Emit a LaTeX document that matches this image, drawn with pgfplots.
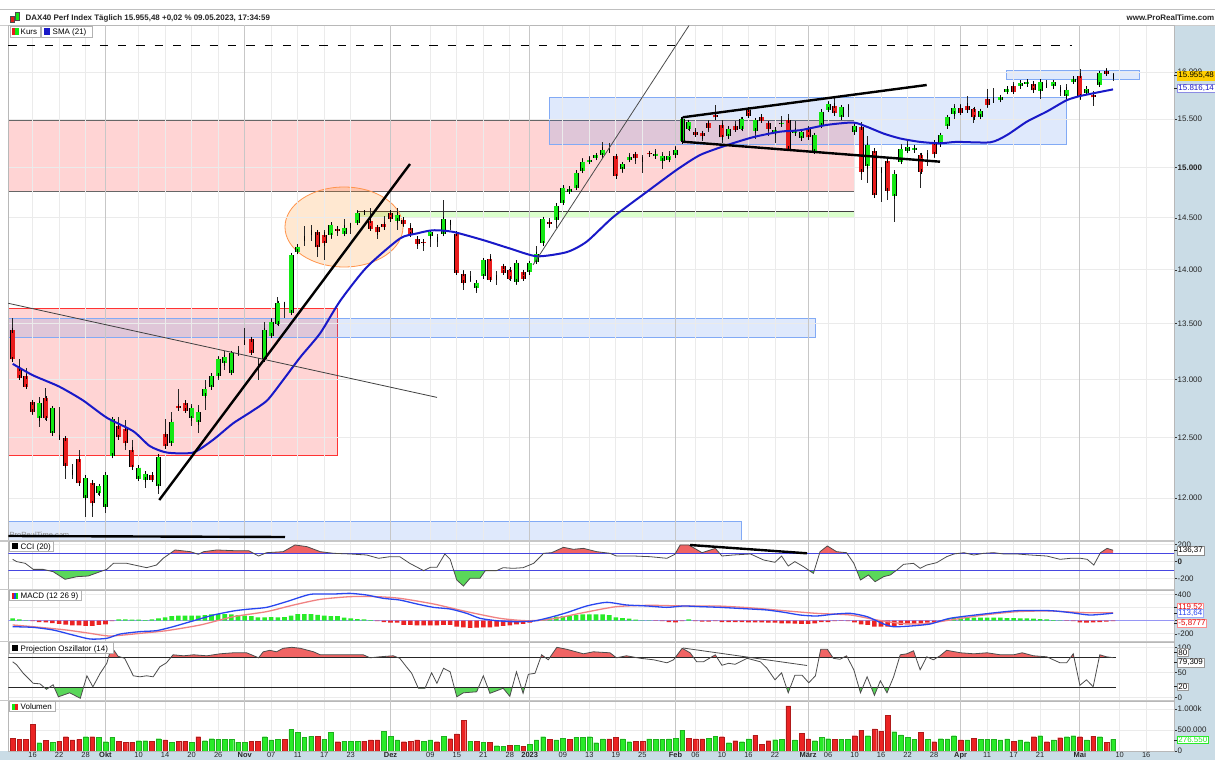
\documentclass[border=0pt]{standalone}
\usepackage{fontspec}
\setmainfont{Liberation Sans}
\usepackage{pgfplots}
\pgfplotsset{compat=1.18}
\usepackage{pgfplotstable}

\definecolor{cgreen}{RGB}{20,232,20}
\definecolor{cred}{RGB}{232,28,28}
\definecolor{smablue}{RGB}{25,25,200}
\definecolor{strip}{RGB}{202,220,230}
\definecolor{boxblue}{RGB}{70,130,240}
\definecolor{boxblueb}{RGB}{130,170,245}
\definecolor{fillred}{RGB}{240,100,100}
\definecolor{fillgreen}{RGB}{90,215,90}
\definecolor{macdblue}{RGB}{40,70,240}
\definecolor{macdred}{RGB}{240,130,130}
\definecolor{zeroline}{RGB}{150,150,245}
\definecolor{vgreen}{RGB}{40,235,40}
\definecolor{vred}{RGB}{235,35,35}
\definecolor{tagyellow}{RGB}{255,206,0}
\definecolor{cciline}{RGB}{70,70,225}
\newcommand{\tf}{\fontsize{8}{9}\selectfont}

\pgfplotstableread{
i o h l c
0 13443 13550 13175 13180
1 13100 13180 12997 13017
2 13030 13100 12925 12940
3 12802 12820 12690 12722
4 12665 12850 12587 12793
5 12836 12925 12650 12665
6 12538 12760 12530 12750
7 12505 12760 12495 12505
8 12495 12510 12160 12265
9 12210 12280 12160 12210
10 12320 12400 12115 12120
11 12005 12180 11850 12165
12 12127 12127 11850 11958
13 12040 12098 12030 12098
14 11932 12210 11880 12190
15 12347 12665 12340 12657
16 12597 12680 12500 12503
17 12577 12650 12400 12455
18 12397 12480 12250 12255
19 12160 12265 12150 12250
20 12150 12205 12080 12200
21 12190 12200 12140 12152
22 12098 12360 12035 12341
23 12530 12660 12425 12430
24 12455 12720 12450 12637
25 12770 12915 12736 12752
26 12800 12810 12720 12730
27 12665 12790 12600 12752
28 12632 12780 12540 12716
29 12860 13000 12735 12915
30 12935 13045 12930 13033
31 13035 13210 13000 13180
32 13145 13250 13085 13200
33 13060 13250 13040 13235
34 13240 13300 13210 13240
35 13330 13460 13310 13330
36 13360 13370 13230 13240
37 13120 13190 13000 13120
38 13180 13520 13170 13443
39 13390 13550 13380 13520
40 13500 13750 13490 13690
41 13680 13700 13550 13680
42 13600 14150 13590 14140
43 14173 14240 14160 14222
44 14300 14420 14230 14300
45 14360 14430 14280 14360
46 14360 14380 14125 14217
47 14335 14380 14090 14255
48 14330 14460 14300 14435
49 14395 14420 14320 14375
50 14345 14490 14330 14405
51 14430 14445 14340 14430
52 14455 14580 14440 14545
53 14550 14570 14530 14550
54 14475 14600 14390 14395
55 14410 14420 14300 14360
56 14440 14520 14400 14410
57 14550 14570 14480 14490
58 14475 14600 14380 14530
59 14485 14500 14410 14445
60 14405 14450 14330 14340
61 14300 14310 14200 14250
62 14270 14290 14180 14255
63 14320 14380 14220 14360
64 14290 14340 14220 14290
65 14345 14680 14340 14490
66 14460 14480 14380 14460
67 14345 14350 13970 13975
68 13965 14000 13810 13880
69 13920 13990 13890 13920
70 13830 13910 13780 13880
71 13940 14100 13930 14090
72 14105 14150 13900 13910
73 13925 13990 13860 13925
74 14035 14060 13960 13975
75 14000 14010 13905 13915
76 13890 14085 13855 14070
77 13980 14000 13900 13915
78 13980 14080 13950 14065
79 14080 14230 14070 14150
80 14255 14500 14250 14490
81 14460 14500 14400 14440
82 14480 14630 14400 14620
83 14650 14810 14640 14800
84 14760 14800 14750 14790
85 14800 14960 14790 14950
86 14970 15100 14960 15060
87 15060 15120 15050 15080
88 15100 15140 15090 15125
89 15130 15260 15120 15185
90 15180 15250 15170 15180
91 15120 15130 14910 14915
92 14985 15050 14950 15035
93 15080 15150 15070 15105
94 15140 15160 15040 15095
95 15085 15130 14950 15085
96 15150 15170 15110 15140
97 15120 15190 15110 15145
98 15070 15160 14990 15120
99 15080 15170 15060 15120
100 15130 15220 15120 15185
101 15270 15510 15260 15500
102 15400 15480 15390 15470
103 15365 15410 15310 15340
104 15355 15370 15270 15320
105 15460 15490 15370 15410
106 15550 15650 15510 15520
107 15435 15490 15250 15310
108 15320 15420 15300 15400
109 15425 15480 15380 15390
110 15400 15520 15390 15500
111 15600 15630 15520 15535
112 15380 15500 15290 15490
113 15525 15545 15470 15485
114 15460 15480 15330 15400
115 15360 15420 15250 15390
116 15450 15530 15440 15465
117 15490 15560 15170 15195
118 15355 15480 15340 15380
119 15300 15400 15280 15370
120 15395 15430 15300 15310
121 15170 15345 15160 15335
122 15430 15590 15420 15580
123 15600 15690 15590 15660
124 15640 15720 15560 15565
125 15520 15635 15510 15625
126 15625 15665 15520 15625
127 15365 15460 15340 15425
128 15415 15470 14880 14960
129 15015 15330 14850 15230
130 15175 15185 14700 14725
131 14970 15010 14660 14970
132 15070 15110 14680 14770
133 14715 14977 14460 14935
134 15060 15247 15050 15190
135 15175 15290 15160 15215
136 15180 15220 15160 15205
137 15130 15150 14800 14960
138 15130 15180 15015 15130
139 15255 15265 15100 15140
140 15240 15345 15210 15335
141 15425 15530 15410 15520
142 15560 15660 15500 15615
143 15620 15660 15560 15570
144 15640 15740 15590 15595
145 15605 15615 15460 15520
146 15525 15600 15500 15585
147 15710 15815 15620 15650
148 15700 15830 15680 15700
149 15705 15760 15690 15730
150 15790 15850 15780 15820
151 15850 15890 15780 15790
152 15850 15910 15840 15885
153 15870 15920 15860 15900
154 15875 15890 15790 15805
155 15795 15910 15715 15900
156 15860 15915 15850 15860
157 15850 15900 15830 15890
158 15810 15860 15740 15810
159 15740 15870 15705 15810
160 15900 15940 15890 15930
161 15960 16030 15700 15740
162 15780 15830 15770 15820
163 15760 15800 15640 15730
164 15865 16000 15860 15990
165 16010 16040 15970 15985
166 15955 15990 15905 15955
}\candles

\pgfplotstableread{
i p
0 13140
3 13040
7 12940
10.6 12820
14.2 12670
18.2 12555
20.7 12430
23.3 12375
27.2 12375
30.2 12481
33.2 12620
35.8 12715
38.4 12820
40.8 12997
43.4 13200
46.4 13415
49.4 13710
53.4 14025
58.4 14300
61 14350
63.4 14380
66.4 14365
71 14285
75 14205
79.1 14130
83.6 14170
86.6 14270
90.6 14510
95.7 14760
100.2 14980
103.7 15130
107.7 15230
111.8 15315
115.8 15370
118.8 15385
122.8 15440
126.8 15465
128.9 15420
131.4 15350
133.9 15300
136.9 15265
139.9 15250
142.4 15265
147.5 15260
150 15335
153 15475
156 15580
159 15700
161 15745
163.1 15775
166 15816
}\sma

\pgfplotstableread{
i v
0 29
0.6 2
1.9 -18
3.1 -89
4.6 -89
6.1 -116
7.9 -206
9.7 -175
11.4 -167
13.2 -116
14.2 -89
15.2 -18
17.2 -18
20.2 -69
21.7 -38
22.7 41
24.5 139
26.8 119
28 88
28.8 119
30.8 139
33.3 131
35.6 131
37.1 68
38.3 107
40.8 119
42.6 198
44.4 178
46.4 119
48.4 100
50.9 92
53.4 80
55.2 41
56.9 60
58.4 60
59.9 -18
62 -104
63 -65
64 -65
65.2 92
66 29
67 -214
68 -285
69 -194
70.5 -194
71.3 -104
73 -104
74 -69
75.5 -77
77 -69
78.6 -18
80.1 100
81.3 107
83.1 170
84.6 147
86.1 158
88.1 119
90.1 100
91.1 68
93.7 68
96.2 60
98.7 41
99.9 88
100.7 198
102 198
104 107
106 158
107 68
108.7 80
111.3 92
113.3 21
115 -6
116 68
117 -49
118 2
119.3 -57
120.8 -136
121.8 119
122.9 186
124.3 119
125.8 107
126.9 -18
127.9 -214
129.1 -155
130.1 -234
131.4 -175
132.4 -155
133.4 -96
134.4 -30
135.9 -18
136.9 -77
137.9 -38
139.4 -10
140.9 60
142 92
143.5 107
145 80
146.5 100
148 107
149.5 92
151.5 92
153.5 80
156 68
158 29
159.6 41
161.1 41
162.1 29
163.1 -38
164.1 107
165.1 158
166 136
}\cci

\pgfplotstableread{
i v
0 -91
3.1 -101
6.1 -141
9.1 -217
11.7 -278
14.2 -267
16.2 -202
19.2 -166
21.7 -151
24.2 -91
26.8 -15
30.3 86
33.3 147
35.3 172
38.3 202
41.3 288
44.9 399
48.4 404
50.9 414
53.4 389
55.9 339
58.4 313
61 253
63.5 202
66 177
68.5 111
70.5 36
73 0
75.5 -15
78.6 -5
81.1 51
83.6 122
86.6 223
89.6 278
92.6 238
95.7 223
98.7 202
101.2 223
103.7 213
106.7 202
111.3 177
113.8 162
116.5 125
118.8 86
121.3 71
124 100
126.4 111
128.9 61
131.4 -50
132.9 -91
135.4 -81
138.4 -50
141.4 36
146.5 101
151.5 152
156.5 152
159.6 122
162.6 86
166 114
}\macd

\pgfplotstableread{
i v
0 -65
3.1 -91
8.1 -141
11.7 -192
14.7 -232
19.2 -192
23.2 -151
28.3 -65
33.3 61
38.3 137
42.4 238
46.4 323
50.9 364
54.9 364
58.4 339
63.5 253
68.5 137
73.5 36
77.5 0
81.1 21
86.1 122
91.1 213
96.2 233
101.2 223
106.2 223
111.3 195
116.3 152
121.3 111
126.4 86
130.4 10
133.9 -40
137.4 -50
141.4 10
146.5 86
151.5 137
156.5 147
161.6 122
166 120
}\signal

\pgfplotstableread{
i h
0 35
1 20
2 5
3 -5
4 -20
5 -25
6 -35
7 -50
8 -60
9 -70
10 -70
11 -80
12 -80
13 -65
14 -55
15 -5
16 20
17 20
18 15
19 15
20 10
21 20
22 35
23 50
24 70
25 75
26 75
27 75
28 75
29 85
30 95
31 100
32 100
33 95
34 85
35 75
36 70
37 50
38 50
39 55
40 50
41 55
42 75
43 100
44 100
45 100
46 90
47 75
48 70
49 70
50 45
51 35
52 25
53 20
54 10
55 -5
56 -20
57 -30
58 -30
59 -65
60 -65
61 -70
62 -70
63 -70
64 -70
65 -65
66 -65
67 -90
68 -100
69 -110
70 -105
71 -100
72 -100
73 -90
74 -80
75 -70
76 -55
77 -50
78 -30
79 -5
80 20
81 35
82 60
83 70
84 70
85 85
86 95
87 95
88 95
89 95
90 85
91 50
92 40
93 30
94 15
95 5
96 3
97 -3
98 -8
99 -20
100 -25
101 -5
102 20
103 -5
104 -15
105 -15
106 -5
107 -20
108 -20
109 -20
110 -20
111 -25
112 -25
113 -25
114 -30
115 -30
116 -40
117 -40
118 -45
119 -50
120 -50
121 -40
122 -20
123 -20
124 -5
125 -3
126 -5
127 -25
128 -55
129 -65
130 -90
131 -90
132 -90
133 -80
134 -65
135 -55
136 -45
137 -40
138 -30
139 -20
140 -5
141 25
142 40
143 50
144 50
145 45
146 45
147 45
148 45
149 45
150 40
151 40
152 35
153 35
154 30
155 25
156 20
157 10
158 3
159 -3
160 -5
161 -25
162 -30
163 -25
164 -20
165 -15
166 -6
}\hist

\pgfplotstableread{
i v
0 71
0.6 65
1.6 48
3.1 28
4.1 27
5.1 16
6.1 25
6.9 1
8.6 9
10.2 -2
11.2 43
12.1 21
13.2 48
14.2 68
14.9 101
15.9 82
16.9 78
18.2 43
19.2 41
20.2 43
21.2 41
22.2 61
23.2 69
24.2 85
25.8 83
27.3 85
29.3 83
31.3 87
33.3 89
35.3 89
37.1 79
37.8 91
38.8 94
39.8 91
40.8 98
42.1 100
43.4 98
45.4 91
46.4 85
48.4 85
50.9 85
52.9 85
53.9 79
55.4 81
57.4 83
58.4 78
59.4 61
60.2 48
61.2 18
62.2 18
63.2 49
64 28
65 58
66 51
67 1
68 9
70 11
71 43
72 8
74 18
75 2
76 51
77 8
77.8 46
78.8 48
79.8 85
80.8 75
82.1 100
83.6 96
86.1 87
87.6 91
90.1 89
91.1 79
92.6 83
94.7 78
96.7 75
98.7 69
99.7 75
101 98
102.2 89
103.2 71
104.2 71
106 85
107 64
108 68
109 66
110.8 78
112.8 71
113.8 58
115 35
116 49
117 9
118 44
119.1 44
120.1 29
121.1 43
121.9 96
122.9 96
123.8 78
124.8 76
125.8 83
126.9 55
127.9 9
128.9 41
130 4
130.9 33
131.9 9
132.9 41
133.9 85
134.9 87
135.9 93
136.9 55
137.9 81
138.9 75
139.9 83
140.9 94
143 89
145 87
147 89
149 85
151 85
152.3 89
154 83
156 81
158 69
159 69
160 87
161 24
162 35
163 21
164 85
165 81
166 79.3
}\proj

\pgfplotstableread{
i v g
0 302 0
1 278 0
2 278 0
3 635 0
4 198 1
5 254 0
6 214 1
7 238 0
8 341 0
9 262 0
10 278 0
11 341 1
12 341 0
13 325 1
14 222 1
15 325 1
16 238 0
17 214 0
18 214 0
19 246 1
20 246 1
21 230 0
22 294 1
23 262 0
24 206 1
25 230 0
26 230 0
27 214 1
28 341 0
29 246 1
30 294 1
31 278 1
32 278 1
33 278 1
34 214 1
35 214 1
36 238 0
37 238 0
38 341 1
39 262 1
40 278 1
41 278 0
42 516 1
43 452 1
44 333 1
45 349 1
46 349 0
47 278 1
48 437 1
49 222 0
50 238 1
51 238 1
52 238 1
53 238 0
54 262 0
55 262 0
56 476 1
57 357 1
58 262 1
59 222 0
60 238 0
61 262 0
62 238 1
63 262 1
64 222 0
65 357 1
66 294 0
67 405 0
68 738 0
69 238 1
70 238 0
71 206 1
72 206 0
73 127 1
74 119 1
75 135 0
76 135 1
77 119 0
78 159 1
79 262 1
80 341 1
81 278 0
82 262 1
83 302 1
84 278 0
85 325 1
86 325 1
87 341 1
88 198 1
89 286 1
90 286 0
91 325 0
92 286 1
93 222 1
94 238 0
95 238 0
96 286 1
97 278 1
98 278 1
99 286 1
100 302 1
101 500 1
102 302 0
103 286 0
104 286 0
105 302 1
106 357 1
107 341 0
108 198 1
109 246 0
110 222 1
111 286 1
112 370 0
113 159 0
114 246 0
115 270 1
116 278 1
117 1075 0
118 262 1
119 421 0
120 286 0
121 246 1
122 325 1
123 294 1
124 278 0
125 278 1
126 278 1
127 365 0
128 500 0
129 365 1
130 524 0
131 476 0
132 857 0
133 460 1
134 381 1
135 325 1
136 278 1
137 444 0
138 278 1
139 222 0
140 294 1
141 286 1
142 365 1
143 262 0
144 262 1
145 302 0
146 278 1
147 278 1
148 278 1
149 262 1
150 286 1
151 238 0
152 262 1
153 222 1
154 341 0
155 365 1
156 222 0
157 262 1
158 317 0
159 341 1
160 365 1
161 341 0
162 262 1
163 357 0
164 341 1
165 206 0
166 277 1
}\vol

\pgfplotsset{
  panel/.style={
    scale only axis, width=1165.7bp, xmin=-0.66, xmax=175.2, anchor=south west,
    axis line style={draw=black!28},
    xtick={3,7,11,19,23,27,31,39,43,47,51,63,67,71,75,83,87,91,95,103,107,111,115,123,127,131,135,139,147,151,155,167,171},
    xticklabels={},
    extra x ticks={14,35,57,78,100,120,143,161}, extra x tick labels={},
    extra x tick style={grid style={draw=black!22, line width=0.8bp}, xtick style={draw=none}},
    xmajorgrids, ymajorgrids,
    grid style={draw=black!8, line width=0.8bp},
    xtick style={draw=none},
    tick align=outside, major tick length=3bp,
    ytick style={draw=black!80, line width=0.6bp},
    yticklabel pos=right, ytick pos=right,
    yticklabel style={font=\tf, text=black!85, anchor=west, inner xsep=0.5bp},
    minor tick num=0,
  },
  errbase/.style={draw=none, mark=none, forget plot, error bars/y dir=both, error bars/y explicit},
}

\newcommand{\ptag}[5]{%
  \draw[black!85, line width=0.6bp] (1174,#1) -- (1177.5,#1);
  \node[anchor=west, fill=#4, draw=#5, line width=0.5bp, inner xsep=1bp, inner ysep=0.8bp, text=#3, font=\tf] at (1177.2,#1) {#2};}

\begin{document}
\begin{tikzpicture}
\fill[white] (0,0) rectangle (1215bp,760bp);
\begin{scope}[x=1bp,y=1bp,shift={(0,760)},yscale=-1]
  \fill[strip] (1174,25) rectangle (1215,751);
  \fill[strip] (0,751) rectangle (1215,760);
  \draw[black!25, line width=0.8bp] (0,9.3) -- (1215,9.3);
  \draw[black!20, line width=0.8bp] (0,25) -- (1215,25);
  % zones
  \fill[red, fill opacity=0.17] (8.3,120) rectangle (854.3,191.7);
  \draw[black!60, line width=0.9bp] (8.3,120) -- (854.3,120) -- (854.3,191.7) -- (8.3,191.7);
  \fill[red, fill opacity=0.17] (8.3,308.3) rectangle (337.7,455);
  \draw[red!80, line width=0.8bp] (8.3,308.3) rectangle (337.7,455);
  \fill[boxblue, fill opacity=0.17] (8.3,318.3) rectangle (815,337.3);
  \draw[boxblueb, line width=0.8bp] (8.3,318.3) rectangle (815,337.3);
  \fill[boxblue, fill opacity=0.17] (8.3,521.7) rectangle (741,540.5);
  \draw[boxblueb, line width=0.8bp] (8.3,521.7) -- (741,521.7) -- (741,540.5);
  \fill[boxblue, fill opacity=0.17] (549.3,97.3) rectangle (1066.7,144);
  \draw[boxblueb, line width=0.8bp] (549.3,97.3) rectangle (1066.7,144);
  \fill[boxblue, fill opacity=0.17] (1006,70.7) rectangle (1139.3,79);
  \draw[boxblueb, line width=0.8bp] (1006,70.7) rectangle (1139.3,79);
  \fill[green!60!lime, fill opacity=0.2] (357,211.7) rectangle (854.3,217.3);
  \draw[black!75, line width=0.8bp] (357,211.7) rectangle (854.3,217.3);
  \fill[orange, fill opacity=0.18] (344,227) ellipse [x radius=59, y radius=40];
  \draw[orange!80!red!70, line width=0.8bp] (344,227) ellipse [x radius=59, y radius=40];
  \node[anchor=west, text=black!45, font=\fontsize{7.5}{8}\selectfont, inner sep=0] at (9.5,534.5) {ProRealTime.com};
\end{scope}

% ---------- main price panel (price axis is logarithmic: values plotted as ln(price))
\begin{axis}[panel, at={(8.3bp,219.5bp)}, height=515.5bp,
  ymin=9.364083, ymax=9.712159,
  ytick={9.392662,9.433484,9.472705,9.510445,9.546813,9.581904,9.615805,9.648595,9.680344},
  yticklabels={12.000,12.500,13.000,13.500,14.000,14.500,\textbf{15.000},15.500,16.000}]
\addplot[errbase, error bars/error mark=none, error bars/error bar style={draw=black!85, line width=0.7bp}]
  table[x=i, y expr=ln(\thisrow{c}), y error plus expr=ln(\thisrow{h})-ln(\thisrow{c}), y error minus expr=ln(\thisrow{c})-ln(\thisrow{l})]{\candles};
\addplot[errbase, restrict expr to domain={\thisrow{c}-\thisrow{o}}{0:100000}, error bars/error mark=none, error bars/error bar style={draw=black, line width=5bp}]
  table[x=i, y expr=ln(\thisrow{c}), y error plus expr=0, y error minus expr=ln(\thisrow{c})-ln(\thisrow{o})]{\candles};
\addplot[errbase, restrict expr to domain={\thisrow{c}-\thisrow{o}}{0:100000}, error bars/error mark=-, error bars/error mark options={draw=black, line width=0.6bp, mark size=2.5bp}, error bars/error bar style={draw=cgreen, line width=3.8bp}]
  table[x=i, y expr=ln(\thisrow{c}), y error plus expr=0, y error minus expr=ln(\thisrow{c})-ln(\thisrow{o})]{\candles};
\addplot[errbase, restrict expr to domain={\thisrow{o}-\thisrow{c}}{0.001:100000}, error bars/error mark=none, error bars/error bar style={draw=black, line width=5bp}]
  table[x=i, y expr=ln(\thisrow{c}), y error plus expr=ln(\thisrow{o})-ln(\thisrow{c}), y error minus expr=0]{\candles};
\addplot[errbase, restrict expr to domain={\thisrow{o}-\thisrow{c}}{0.001:100000}, error bars/error mark=-, error bars/error mark options={draw=black, line width=0.6bp, mark size=2.5bp}, error bars/error bar style={draw=cred, line width=3.8bp}]
  table[x=i, y expr=ln(\thisrow{c}), y error plus expr=ln(\thisrow{o})-ln(\thisrow{c}), y error minus expr=0]{\candles};
\addplot[smablue, line width=2bp, smooth, tension=0.4] table[x=i, y expr=ln(\thisrow{p})]{\sma};
\end{axis}

% ---------- CCI
\begin{axis}[panel, at={(8.3bp,171bp)}, height=48bp, ymin=-320, ymax=244.7,
  ytick={-200,0,200}, yticklabels={-200,\textbf{0},200}]
\begin{scope}
\clip (axis cs:-5,100) rectangle (axis cs:180,600);
\addplot[fill=fillred, draw=none, forget plot] table[x=i,y=v]{\cci} -- (axis cs:166,-600) -- (axis cs:0,-600) -- cycle;
\end{scope}
\begin{scope}
\clip (axis cs:-5,-100) rectangle (axis cs:180,-600);
\addplot[fill=fillgreen, draw=none, forget plot] table[x=i,y=v]{\cci} -- (axis cs:166,600) -- (axis cs:0,600) -- cycle;
\end{scope}
\draw[cciline, line width=0.8bp] (axis cs:-5,100) -- (axis cs:180,100);
\draw[cciline, line width=0.8bp] (axis cs:-5,-100) -- (axis cs:180,-100);
\addplot[black!70, line width=0.8bp] table[x=i,y=v]{\cci};
\end{axis}

% ---------- MACD
\begin{axis}[panel, at={(8.3bp,119bp)}, height=51bp, ymin=-307.6, ymax=465,
  ytick={-200,0,200,400}, yticklabels={-200,{},{},400}]
\draw[zeroline, line width=1.6bp] (axis cs:-5,0) -- (axis cs:180,0);
\addplot[ybar, bar width=4.6bp, bar shift=0pt, fill=vgreen, draw=none, forget plot,
  restrict expr to domain={\thisrow{h}}{0.5:10000}] table[x=i,y=h]{\hist};
\addplot[ybar, bar width=4.6bp, bar shift=0pt, fill=vred, draw=none, forget plot,
  restrict expr to domain={\thisrow{h}}{-10000:-0.5}] table[x=i,y=h]{\hist};
\addplot[macdred, line width=1.3bp, smooth, tension=0.4] table[x=i,y=v]{\signal};
\addplot[macdblue, line width=1.3bp, smooth, tension=0.4] table[x=i,y=v]{\macd};
\end{axis}

% ---------- Projection oscillator
\begin{axis}[panel, at={(8.3bp,60bp)}, height=58bp, ymin=-5.4, ymax=110.6,
  ytick={0,50,100}, yticklabels={0,50,100}]
\begin{scope}
\clip (axis cs:-5,80) rectangle (axis cs:180,300);
\addplot[fill=fillred, draw=none, forget plot] table[x=i,y=v]{\proj} -- (axis cs:166,-300) -- (axis cs:0,-300) -- cycle;
\end{scope}
\begin{scope}
\clip (axis cs:-5,20) rectangle (axis cs:180,-300);
\addplot[fill=fillgreen, draw=none, forget plot] table[x=i,y=v]{\proj} -- (axis cs:166,300) -- (axis cs:0,300) -- cycle;
\end{scope}
\draw[black!85, line width=0.8bp] (axis cs:-5,80) -- (axis cs:166.5,80);
\draw[black!85, line width=0.8bp] (axis cs:-5,20) -- (axis cs:166.5,20);
\addplot[black!70, line width=0.8bp] table[x=i,y=v]{\proj};
\end{axis}

% ---------- Volume
\begin{axis}[panel, at={(8.3bp,9bp)}, height=50bp, ymin=0, ymax=1190.5,
  ytick={0,500,1000}, yticklabels={0,500.000,1.000k},
  xticklabels={16,22,28,10,14,20,26,07,11,17,23,09,15,21,28,09,13,19,25,06,10,16,22,06,10,16,22,28,11,17,21,10,16},
  extra x tick labels={\textbf{Okt},\textbf{Nov},\textbf{Dez},\textbf{2023},\textbf{Feb},\textbf{März},\textbf{Apr},\textbf{Mai}},
  xticklabel style={font=\fontsize{7.5}{8}\selectfont, text=black!85, inner sep=0.5bp, yshift=2.3bp}]
\addplot[ybar, bar width=4.6bp, bar shift=0pt, fill=vgreen, draw=vgreen!75!black, line width=0.3bp,
  restrict expr to domain={\thisrow{g}}{0.5:1.5}] table[x=i,y=v]{\vol};
\addplot[ybar, bar width=4.6bp, bar shift=0pt, fill=vred, draw=vred!75!black, line width=0.3bp,
  restrict expr to domain={\thisrow{g}}{-0.5:0.5}] table[x=i,y=v]{\vol};
\end{axis}

\begin{scope}[x=1bp,y=1bp,shift={(0,760)},yscale=-1]
  % panel separators
  \foreach \yy in {540.8,589.5,641.5,700.5} {\draw[black!22, line width=1.6bp] (0,\yy) -- (1174,\yy);}
  % drawings
  \draw[black, line width=1bp, dash pattern=on 8.3bp off 10bp] (8.3,45.7) -- (1072,45.7);
  \draw[black!75, line width=0.8bp] (8.3,303.3) -- (437,397.4);
  \draw[black!70, line width=0.8bp] (533,265) -- (689,25.5);
  \draw[black, line width=2.4bp] (159.3,500) -- (410,164);
  \draw[black, line width=2.4bp] (682.7,117.3) -- (926.7,85);
  \draw[black, line width=2.4bp] (682.7,141.7) -- (940,161.7);
  \draw[black, line width=2bp] (681.5,117.3) -- (681.5,141.7);
  \draw[black, line width=2.4bp] (8.3,536) -- (285,537);
  \draw[black, line width=2.4bp] (690,545) -- (807,553.3);
  \draw[black!70, line width=0.8bp] (683,648) -- (807,665.5);
  % title
  \fill[cred] (10.5,16.5) rectangle (14,22.5); \draw[black!70, line width=0.4bp] (10.5,16.5) rectangle (14,22.5);
  \fill[cgreen] (15.5,12.5) rectangle (19.5,20.5); \draw[black!70, line width=0.4bp] (15.5,12.5) rectangle (19.5,20.5);
  \node[anchor=base west, inner sep=0, font=\fontsize{8}{9}\selectfont\bfseries, text=black!85] at (25.5,20.5) {DAX40 Perf Index Täglich 15.955,48 +0,02 \% 09.05.2023, 17:34:59};
  \node[anchor=base east, inner sep=0, font=\fontsize{8}{9}\selectfont\bfseries, text=black!85] at (1214.5,20.5) {www.ProRealTime.com};
  % legends
  \draw[black!30, fill=white, line width=0.6bp] (9.8,26.2) rectangle (40,37);
  \fill[cred] (12,28.5) rectangle (15.3,34.8); \fill[cgreen] (15.3,28.5) rectangle (18.6,34.8);
  \node[anchor=base west, inner sep=0, font=\tf] at (20.5,34.6) {Kurs};
  \draw[black!30, fill=white, line width=0.6bp] (41.5,26.2) rectangle (92,37);
  \fill[smablue] (44,28.5) rectangle (50.3,34.8);
  \node[anchor=base west, inner sep=0, font=\tf] at (52.5,34.6) {SMA (21)};
  \draw[black!30, fill=white, line width=0.6bp] (9.3,541.5) rectangle (53.3,551.5);
  \fill[black] (12,543.5) rectangle (18,549.5);
  \node[anchor=base west, inner sep=0, font=\tf] at (20.5,549.6) {CCI (20)};
  \draw[black!30, fill=white, line width=0.6bp] (9.3,590.6) rectangle (81.7,600.7);
  \fill[cred] (12,592.6) rectangle (14,598.6); \fill[macdblue] (14,592.6) rectangle (16,598.6); \fill[cgreen] (16,592.6) rectangle (18,598.6);
  \node[anchor=base west, inner sep=0, font=\tf] at (20.5,598.8) {MACD (12 26 9)};
  \draw[black!30, fill=white, line width=0.6bp] (9.3,642.8) rectangle (113.3,653);
  \fill[black] (12,644.8) rectangle (18,650.8);
  \node[anchor=base west, inner sep=0, font=\tf] at (20.5,651) {Projection Oszillator (14)};
  \draw[black!30, fill=white, line width=0.6bp] (9.3,701.6) rectangle (55,711.7);
  \fill[cgreen] (12,703.6) rectangle (15,709.6); \fill[cred] (15,703.6) rectangle (18,709.6);
  \node[anchor=base west, inner sep=0, font=\tf] at (20.5,709.8) {Volumen};
  % price tags
  \ptag{75.7}{15.955,48}{black}{tagyellow}{tagyellow}
  \ptag{88.5}{15.816,14}{smablue}{white}{smablue!50}
  \ptag{550.7}{136,37}{black}{white}{black!45}
  \ptag{607}{119,52}{red!90!black}{white}{red!45}
  \ptag{613.3}{113,64}{macdblue}{white}{macdblue!45}
  \ptag{623.3}{-5,8777}{red!90!black}{white}{red!45}
  \ptag{652.3}{80}{black}{white}{black!40}
  \ptag{662.7}{79,309}{black}{white}{black!40}
  \ptag{686.7}{20}{black}{white}{black!40}
  \ptag{740}{276.550}{vgreen}{white}{vgreen}
\end{scope}
\pgfresetboundingbox
\path[use as bounding box] (0,0) rectangle (1215bp,760bp);
\end{tikzpicture}
\end{document}
